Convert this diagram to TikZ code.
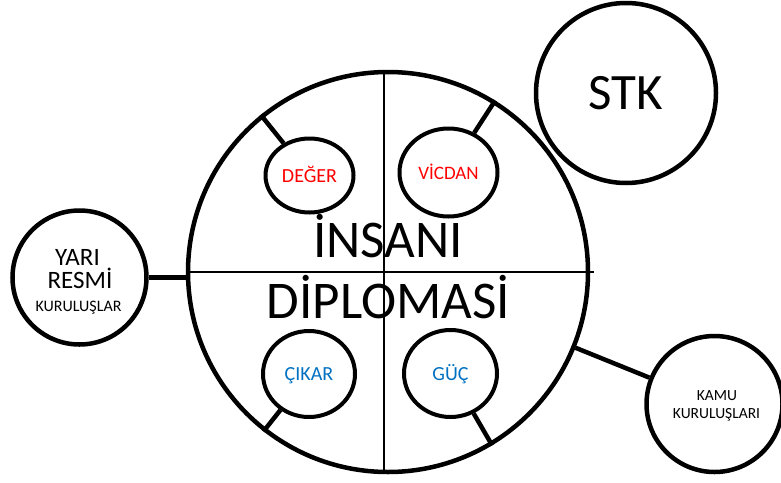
\documentclass[tikz,border=0pt]{standalone}
\usepackage{fontspec}
\setmainfont{Carlito}
\usetikzlibrary{shapes.geometric}
\definecolor{lblred}{RGB}{255,0,0}
\definecolor{lblblue}{RGB}{0,112,192}
\begin{document}
\begin{tikzpicture}[x=1pt,y=-1pt,
  bigc/.style={circle,draw,line width=4.5pt,inner sep=0pt},
  ell/.style={ellipse,draw,line width=4pt,inner sep=0pt,text height=13pt,text depth=0pt,font=\fontsize{20}{20}\selectfont},
  conn/.style={line width=4.5pt},
  thinline/.style={line width=1.6pt},
  txt/.style={anchor=base,inner sep=0pt}
  ]
\useasboundingbox (0,0) rectangle (781,482);
% main circle
\node[bigc,minimum size=400pt] (main) at (388,272) {};
\coordinate (vtop) at (384,72);
\coordinate (vbot) at (384,473);
\coordinate (hl) at (189,272);
\coordinate (hr) at (594,272);
\draw[thinline] (vtop) -- (vbot);
\draw[thinline] (hl) -- (hr);
\node[txt,font=\fontsize{53}{53}\selectfont] (t1) at (388,257) {İNSANI};
\node[txt,font=\fontsize{53}{53}\selectfont] (t2) at (388.5,318) {DİPLOMASİ};
% inner ellipses
\node[ell,minimum width=88pt,minimum height=74pt,text=lblred] (deger) at (309.5,175.5) {DEĞER};
\node[ell,minimum width=98pt,minimum height=88pt,text=lblred,font=\fontsize{19}{19}\selectfont] (vicdan) at (448.5,172.5) {VİCDAN};
\node[ell,minimum width=92pt,minimum height=86pt,text=lblblue] (cikar) at (309,374) {ÇIKAR};
\node[ell,minimum width=93pt,minimum height=87pt,text=lblblue] (guc) at (450.5,373.5) {GÜÇ};
\draw[conn] (main.129) -- (deger);
\draw[conn] (main.58.5) -- (vicdan);
\draw[conn] (main.232) -- (cikar);
\draw[conn] (main.301.6) -- (guc);
% outer circles
\node[bigc,minimum size=180pt,text height=33pt,text depth=0pt,font=\fontsize{51}{51}\selectfont] (stk) at (626,93) {STK};
\node[bigc,minimum size=134pt] (yari) at (79.5,277.5) {};
\node[txt,font=\fontsize{25}{25}\selectfont] (y1) at (77.5,265) {YARI};
\node[txt,font=\fontsize{25}{25}\selectfont] (y2) at (80,288.8) {RESMİ};
\node[txt,font=\fontsize{16}{16}\selectfont] (y3) at (78.5,311.7) {KURULUŞLAR};
\draw[conn] (yari.east) -- (yari.east -| main.west);
\node[bigc,minimum size=136pt] (kamu) at (714.5,404) {};
\node[txt,font=\fontsize{15.5}{15.5}\selectfont] (k1) at (717,400) {KAMU};
\node[txt,font=\fontsize{15.5}{15.5}\selectfont] (k2) at (716.5,418) {KURULUŞLARI};
\draw[conn] (main.-22) -- (kamu);
\end{tikzpicture}
\end{document}
